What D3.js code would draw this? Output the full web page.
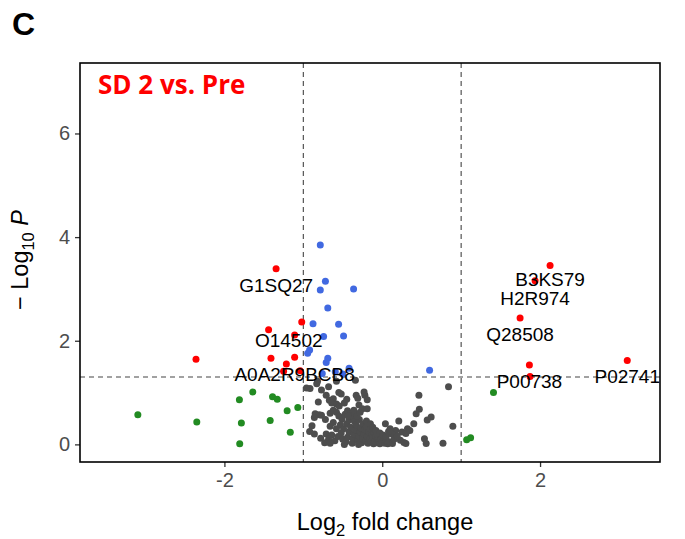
<!DOCTYPE html>
<html>
<head>
<meta charset="utf-8">
<script src="https://cdn.jsdelivr.net/npm/d3@7/dist/d3.min.js"></script>
<style>
  html, body { margin: 0; padding: 0; background: #fff; }
  svg { display: block; }
</style>
</head>
<body>
<svg id="chart" width="685" height="539"></svg>
<script>
// Volcano plot: SD 2 vs. Pre — log2 fold change against -log10 P

// Significant (p < 0.05) and |log2FC| > 1
const sigFC = [
  { x: -1.345, y: 3.39, id: "G1SQ27" },
  { x: -1.44,  y: 2.21 },
  { x: -1.02,  y: 2.36, id: "O14502" },
  { x: -1.11,  y: 2.11 },
  { x: -2.36,  y: 1.645 },
  { x: -1.41,  y: 1.66 },
  { x: -1.11,  y: 1.68, id: "A0A2R9BCB8" },
  { x: -1.215, y: 1.55 },
  { x: -1.25,  y: 1.41 },
  { x: -1.04,  y: 1.42 },
  { x: 2.127,  y: 3.45, id: "B3KS79" },
  { x: 1.937,  y: 3.16, id: "H2R974" },
  { x: 1.747,  y: 2.44, id: "Q28508" },
  { x: 1.865,  y: 1.53, id: "P00738" },
  { x: 1.873,  y: 1.31 },
  { x: 3.105,  y: 1.62, id: "P02741" }
];

// Significant p only
const sigP = [
  [-0.785, 3.85], [-0.72, 3.15], [-0.785, 2.98], [-0.363, 3.0], [-0.69, 2.63],
  [-0.877, 2.33], [-0.553, 2.32], [-0.743, 2.08], [-0.49, 2.09], [-0.92, 1.82],
  [-0.945, 1.76], [-0.69, 1.66], [-0.71, 1.58], [-0.42, 1.47], [-0.76, 1.37],
  [-0.595, 1.40], [-0.50, 1.36], [0.60, 1.43]
];

// |log2FC| > 1 only
const fcOnly = [
  [-3.097, 0.57], [-2.35, 0.43], [-1.81, 0.86], [-1.64, 1.01], [-1.785, 0.415],
  [-1.806, 0.01], [-1.42, 0.46], [-1.39, 0.92], [-1.33, 0.87], [-1.205, 0.65],
  [-1.165, 0.235], [-1.07, 0.71], [1.41, 1.0], [1.07, 0.09], [1.12, 0.13]
];

// Not significant
const ns = [
  [-0.915, 1.08], [-0.96, 1.09], [-0.82, 1.22], [-0.83, 1.17], [-0.77, 1.05],
  [-0.68, 1.11], [-0.71, 0.95], [-0.67, 0.85], [-0.62, 0.88], [-0.64, 0.80],
  [-0.81, 0.82], [-0.85, 0.59], [-0.89, 0.36], [-0.80, 0.57], [-0.86, 0.52],
  [-0.55, 1.0], [-0.52, 0.97], [-0.58, 0.78], [-0.545, 0.74], [-0.48, 0.80],
  [-0.45, 0.87], [-0.33, 0.95], [-0.31, 0.89], [-0.22, 0.95], [-0.19, 0.86],
  [-0.34, 1.24], [-0.23, 1.01], [-0.295, 0.76], [-0.25, 0.69], [-0.19, 0.69],
  [-0.77, 0.56], [-0.72, 0.48], [-0.66, 0.60], [-0.62, 0.66], [-0.58, 0.62],
  [-0.55, 0.55], [-0.51, 0.49], [-0.47, 0.58], [-0.44, 0.65], [-0.40, 0.60],
  [-0.66, 0.35], [-0.62, 0.42], [-0.58, 0.30], [-0.53, 0.38], [-0.49, 0.30],
  [-0.45, 0.40], [-0.42, 0.47], [-0.38, 0.53], [-0.35, 0.44], [-0.78, 0.12],
  [-0.71, 0.20], [-0.68, 0.10], [-0.64, 0.18], [-0.60, 0.07], [-0.56, 0.15],
  [-0.52, 0.22], [-0.73, 0.03], [-0.66, 0.02],
  [-0.50, 0.10], [-0.46, 0.05], [-0.44, 0.14], [-0.42, 0.24], [-0.40, 0.33],
  [-0.38, 0.02], [-0.37, 0.12], [-0.36, 0.20], [-0.34, 0.28], [-0.33, 0.38],
  [-0.31, 0.08], [-0.30, 0.16], [-0.29, 0.48], [-0.28, 0.24], [-0.27, 0.32],
  [-0.26, 0.03], [-0.25, 0.12], [-0.24, 0.40], [-0.23, 0.20], [-0.22, 0.28],
  [-0.21, 0.07], [-0.20, 0.35], [-0.19, 0.15], [-0.18, 0.02], [-0.17, 0.24],
  [-0.16, 0.10], [-0.15, 0.30], [-0.14, 0.05], [-0.13, 0.18], [-0.12, 0.13],
  [-0.11, 0.01], [-0.10, 0.22], [-0.09, 0.08], [-0.08, 0.15], [-0.07, 0.03],
  [-0.06, 0.11], [-0.05, 0.19], [-0.04, 0.06], [-0.03, 0.01], [-0.02, 0.09],
  [0.00, 0.04], [0.02, 0.12], [0.03, 0.02], [0.05, 0.07], [0.07, 0.01],
  [0.09, 0.05], [-0.48, 0.00], [-0.43, 0.55], [-0.35, 0.60], [-0.32, 0.55],
  [-0.20, 0.45], [-0.15, 0.40], [-0.12, 0.33], [-0.08, 0.27], [-0.03, 0.22],
  [0.01, 0.18], [0.05, 0.15], [-0.30, 0.00], [-0.36, 0.66], [-0.28, 0.62],
  [0.04, 0.40], [0.21, 0.45], [0.17, 0.27], [0.25, 0.24], [0.32, 0.30],
  [0.23, 0.08], [0.275, 0.035], [0.13, 0.015], [0.10, 0.30], [0.12, 0.20],
  [0.08, 0.25], [0.15, 0.10], [0.19, 0.16], [0.30, 0.21], [0.35, 0.27],
  [0.30, 0.015], [0.40, 0.40], [0.465, 0.95], [0.47, 0.68], [0.43, 0.59],
  [0.62, 0.53], [0.57, 0.47], [0.895, 0.35], [0.535, 0.11], [0.557, 0.015],
  [0.77, 0.02], [0.84, 1.11], [-0.58, 1.22], [-0.86, 0.20], [-0.92, 0.25]
];

// Label offsets (px) from each labelled point
const labelNudge = {
  "G1SQ27": [0, 16], "O14502": [-13, 18], "A0A2R9BCB8": [0, 17],
  "B3KS79": [0, 13.5], "H2R974": [0, 17.5], "Q28508": [0, 16],
  "P00738": [0, 16], "P02741": [0, 15.5]
};

const xTicks = [-2, 0, 2];
const yTicks = [0, 2, 4, 6];
const fcCut = 1;
const pCut = -Math.log10(0.05);

const colors = { ns: "#4D4D4D", fc: "#228B22", p: "#4169E1", both: "#FF0000" };

const panel = { left: 80, right: 660, top: 63, bottom: 462 };
const svg = d3.select("#chart");

const x = d3.scaleLinear().domain([-3.83, 3.52]).range([panel.left, panel.right]);
const y = d3.scaleLinear().domain([-0.34, 7.36]).range([panel.bottom, panel.top]);

const font = "'Liberation Sans', Arial, Helvetica, sans-serif";

// Panel label
svg.append("text")
  .attr("x", 12).attr("y", 35)
  .attr("font-family", font).attr("font-weight", "bold").attr("font-size", 32)
  .text("C");

// Threshold lines
const g = svg.append("g");
[-fcCut, fcCut].forEach(v => {
  g.append("line")
    .attr("x1", x(v)).attr("x2", x(v))
    .attr("y1", panel.top).attr("y2", panel.bottom)
    .attr("stroke", "#444").attr("stroke-width", 1.1).attr("stroke-dasharray", "5,4");
});
g.append("line")
  .attr("x1", panel.left).attr("x2", panel.right)
  .attr("y1", y(pCut)).attr("y2", y(pCut))
  .attr("stroke", "#444").attr("stroke-width", 1.1).attr("stroke-dasharray", "5,4");

// Points
const r = 3.5;
const pts = svg.append("g");
pts.selectAll(".ns").data(ns).join("circle")
  .attr("cx", d => x(d[0])).attr("cy", d => y(d[1])).attr("r", r).attr("fill", colors.ns);
pts.selectAll(".fc").data(fcOnly).join("circle")
  .attr("cx", d => x(d[0])).attr("cy", d => y(d[1])).attr("r", r).attr("fill", colors.fc);
pts.selectAll(".p").data(sigP).join("circle")
  .attr("cx", d => x(d[0])).attr("cy", d => y(d[1])).attr("r", r).attr("fill", colors.p);
pts.selectAll(".both").data(sigFC).join("circle")
  .attr("cx", d => x(d.x)).attr("cy", d => y(d.y)).attr("r", r).attr("fill", colors.both);

// Protein labels
svg.append("g").selectAll("text").data(sigFC.filter(d => d.id)).join("text")
  .attr("x", d => x(d.x) + labelNudge[d.id][0])
  .attr("y", d => y(d.y) + labelNudge[d.id][1] + 7)
  .attr("text-anchor", "middle")
  .attr("font-family", font).attr("font-size", 19).attr("fill", "#000")
  .text(d => d.id);

// Axes
const xAxis = svg.append("g").attr("transform", `translate(0,${panel.bottom})`)
  .call(d3.axisBottom(x).tickValues(xTicks).tickSize(5).tickPadding(6).tickFormat(d3.format("d")));
const yAxis = svg.append("g").attr("transform", `translate(${panel.left},0)`)
  .call(d3.axisLeft(y).tickValues(yTicks).tickSize(5).tickPadding(5).tickFormat(d3.format("d")));
[xAxis, yAxis].forEach(a => {
  a.select(".domain").remove();
  a.selectAll(".tick line").attr("stroke", "#333").attr("stroke-width", 1.3);
  a.selectAll(".tick text").attr("fill", "#4D4D4D").attr("font-family", font).attr("font-size", 20);
});
xAxis.selectAll(".tick text").text(d => d < 0 ? "-" + Math.abs(d) : d);

// Panel border
svg.append("rect")
  .attr("x", panel.left).attr("y", panel.top)
  .attr("width", panel.right - panel.left).attr("height", panel.bottom - panel.top)
  .attr("fill", "none").attr("stroke", "#000").attr("stroke-width", 1.6);

// Comparison title
svg.append("text")
  .attr("x", 98).attr("y", 94)
  .attr("font-family", "'Open Sans', sans-serif").attr("font-weight", 700).attr("font-size", 26)
  .attr("fill", "#FF0000")
  .text("SD 2 vs. Pre");

// Axis titles
const xt = svg.append("text")
  .attr("x", 385).attr("y", 530).attr("text-anchor", "middle")
  .attr("font-family", font).attr("font-size", 23.5).attr("fill", "#000");
xt.append("tspan").text("Log");
xt.append("tspan").attr("font-size", 16.5).attr("dy", 6).text("2");
xt.append("tspan").attr("dy", -6).text(" fold change");

const yt = svg.append("text")
  .attr("transform", "translate(28,260) rotate(-90)").attr("text-anchor", "middle")
  .attr("font-family", font).attr("font-size", 23.5).attr("fill", "#000");
yt.append("tspan").text("\u2212 Log");
yt.append("tspan").attr("font-size", 16.5).attr("dy", 6).text("10");
yt.append("tspan").attr("dy", -6).text(" ");
yt.append("tspan").attr("font-style", "italic").text("P");
</script>
</body>
</html>
